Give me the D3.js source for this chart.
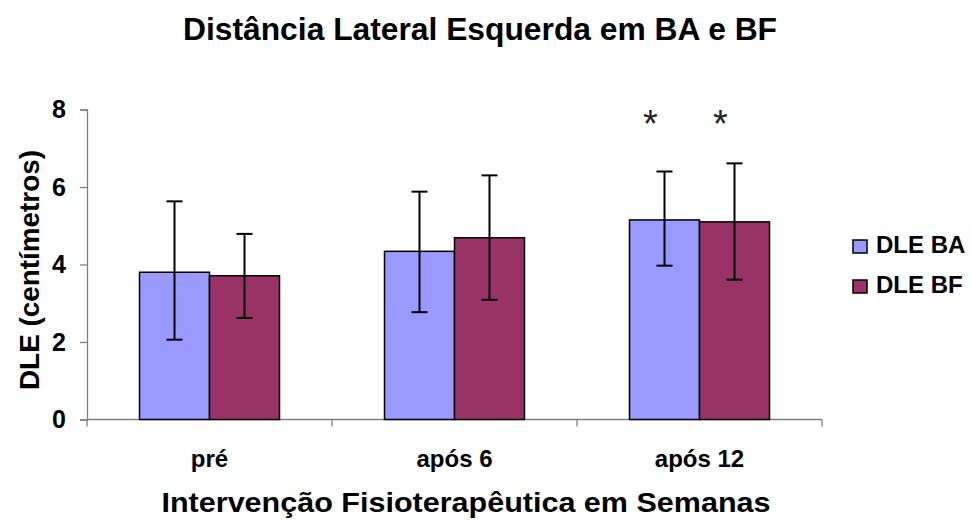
<!DOCTYPE html>
<html>
<head>
<meta charset="utf-8">
<script src="https://cdn.jsdelivr.net/npm/d3@7"></script>
<style>
  html, body { margin: 0; padding: 0; background: #fff; }
  svg text { font-family: Arial, "Liberation Sans", sans-serif; }
</style>
</head>
<body>
<svg id="chart" width="972" height="520"></svg>
<script>
// Groups along the x axis
const categories = ["pré", "após 6", "após 12"];
const seriesNames = ["DLE BA", "DLE BF"];
const seriesColors = ["#9999FF", "#993366"];

// Means and error-bar limits per series (centimetres)
const meanBA = [3.80, 4.34, 5.15];
const meanBF = [3.71, 4.69, 5.10];
const errHighBA = [5.63, 5.88, 6.40];
const errLowBA  = [2.06, 2.77, 3.97];
const errHighBF = [4.79, 6.30, 6.61];
const errLowBF  = [2.62, 3.09, 3.61];

// Significance markers per group and series
const markBA = ["", "", "*"];
const markBF = ["", "", "*"];

const yTicks = [0, 2, 4, 6, 8];

const series = [
  { name: seriesNames[0], color: seriesColors[0], mean: meanBA, hi: errHighBA, lo: errLowBA, mark: markBA },
  { name: seriesNames[1], color: seriesColors[1], mean: meanBF, hi: errHighBF, lo: errLowBF, mark: markBF }
];

const svg = d3.select("#chart");
const plot = { left: 87, right: 822, top: 109.5, bottom: 419.5 };

const x = d3.scaleBand().domain(categories).range([plot.left, plot.right]).paddingInner(0.4286).paddingOuter(0.2143);
const xs = d3.scaleBand().domain(seriesNames).range([0, x.bandwidth()]);
const y = d3.scaleLinear().domain([0, 8]).range([plot.bottom, plot.top]);

// Title
svg.append("text")
  .attr("x", 480).attr("y", 40)
  .attr("text-anchor", "middle")
  .attr("font-size", 31).attr("font-weight", "bold")
  .attr("textLength", 594).attr("lengthAdjust", "spacingAndGlyphs")
  .text("Distância Lateral Esquerda em BA e BF");

// Y axis
const yAxis = svg.append("g")
  .attr("transform", `translate(${plot.left},0)`)
  .call(d3.axisLeft(y).tickValues(yTicks).tickSize(7).tickPadding(14).tickFormat(d3.format("d")));
yAxis.selectAll("path, line").attr("stroke", "#808080").attr("stroke-width", 1.3);
yAxis.selectAll("text").attr("font-size", 25).attr("font-weight", "bold").attr("fill", "#000")
  .attr("font-family", "Arial, 'Liberation Sans', sans-serif");

// X axis: baseline with ticks between groups
const xAxis = svg.append("g").attr("transform", `translate(0,${plot.bottom})`);
xAxis.append("line")
  .attr("x1", plot.left).attr("x2", plot.right)
  .attr("stroke", "#808080").attr("stroke-width", 1.3);
const step = x.step();
const boundaries = d3.range(categories.length + 1).map(i => plot.left + i * step);
xAxis.selectAll("line.tick").data(boundaries).join("line")
  .attr("class", "tick")
  .attr("x1", d => d).attr("x2", d => d)
  .attr("y1", 0).attr("y2", 7)
  .attr("stroke", "#808080").attr("stroke-width", 1.3);
xAxis.selectAll("text").data(categories).join("text")
  .attr("x", d => x(d) + x.bandwidth() / 2)
  .attr("y", 47)
  .attr("text-anchor", "middle")
  .attr("font-size", 24).attr("font-weight", "bold")
  .text(d => d);

// Bars
const groups = svg.append("g").selectAll("g").data(series).join("g");
groups.selectAll("rect").data(s => categories.map((c, i) => ({ c, v: s.mean[i], s }))).join("rect")
  .attr("x", d => x(d.c) + xs(d.s.name))
  .attr("y", d => y(d.v))
  .attr("width", xs.bandwidth())
  .attr("height", d => y(0) - y(d.v))
  .attr("fill", d => d.s.color)
  .attr("stroke", "#000").attr("stroke-width", 1.5);

// Error bars
const capHalf = 8;
const errs = svg.append("g").selectAll("g").data(series).join("g");
errs.selectAll("g").data(s => categories.map((c, i) => ({ c, hi: s.hi[i], lo: s.lo[i], s }))).join("g")
  .each(function(d) {
    const cx = x(d.c) + xs(d.s.name) + xs.bandwidth() / 2;
    const g = d3.select(this).attr("stroke", "#000").attr("stroke-width", 2);
    g.append("line").attr("x1", cx).attr("x2", cx).attr("y1", y(d.hi)).attr("y2", y(d.lo));
    g.append("line").attr("x1", cx - capHalf).attr("x2", cx + capHalf).attr("y1", y(d.hi)).attr("y2", y(d.hi));
    g.append("line").attr("x1", cx - capHalf).attr("x2", cx + capHalf).attr("y1", y(d.lo)).attr("y2", y(d.lo));
  });

// Significance asterisks
const marks = svg.append("g").selectAll("g").data(series).join("g");
marks.selectAll("text").data(s => categories.map((c, i) => ({ c, m: s.mark[i], s })).filter(d => d.m)).join("text")
  .attr("x", d => x(d.c) + xs(d.s.name) + xs.bandwidth() / 2 - 14)
  .attr("y", 137)
  .attr("text-anchor", "middle")
  .attr("font-family", "'Liberation Serif', 'DejaVu Serif', serif")
  .attr("font-size", 38)
  .attr("fill", "#222")
  .text(d => d.m);

// Y axis title
svg.append("text")
  .attr("transform", "translate(39,270) rotate(-90)")
  .attr("text-anchor", "middle")
  .attr("font-size", 28).attr("font-weight", "bold")
  .attr("textLength", 240).attr("lengthAdjust", "spacingAndGlyphs")
  .text("DLE (centímetros)");

// X axis title
svg.append("text")
  .attr("x", 466).attr("y", 512)
  .attr("text-anchor", "middle")
  .attr("font-size", 28).attr("font-weight", "bold")
  .attr("textLength", 609).attr("lengthAdjust", "spacingAndGlyphs")
  .text("Intervenção Fisioterapêutica em Semanas");

// Legend
const legend = svg.append("g").selectAll("g").data(series).join("g")
  .attr("transform", (d, i) => `translate(853,${240 + i * 40})`);
legend.append("rect")
  .attr("width", 14).attr("height", 13)
  .attr("fill", d => d.color)
  .attr("stroke", "#000").attr("stroke-width", 1.5);
legend.append("text")
  .attr("x", 23).attr("y", 13)
  .attr("font-size", 24).attr("font-weight", "bold")
  .text(d => d.name);
</script>
</body>
</html>
